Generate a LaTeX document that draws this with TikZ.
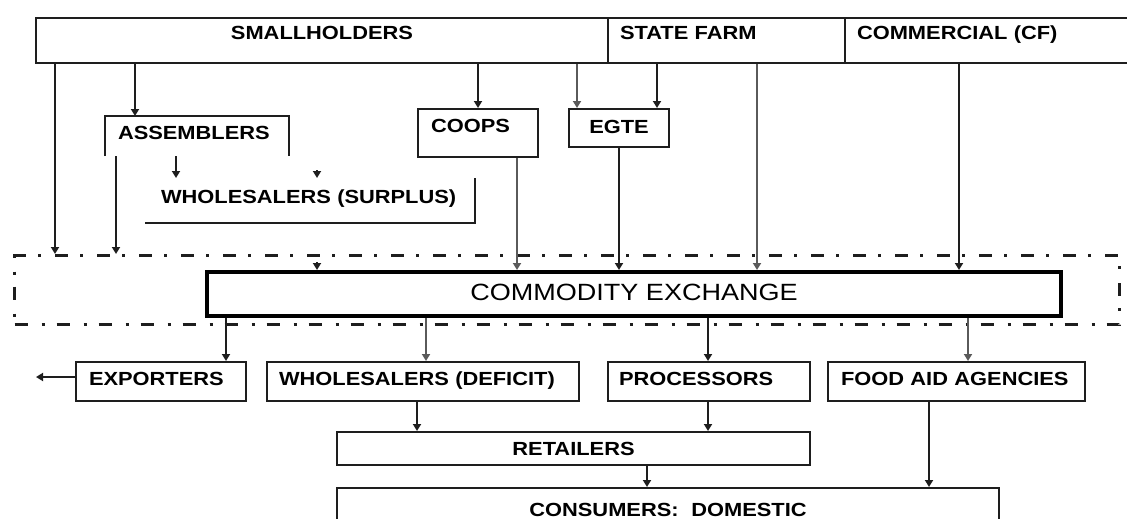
\documentclass[tikz,border=0pt]{standalone}
\usepackage{fontspec}
\setmainfont{Liberation Sans}[FakeStretch=1.15]
\usetikzlibrary{arrows.meta,calc}
\definecolor{lineblk}{RGB}{30,30,30}
\definecolor{linegry}{RGB}{90,90,90}
\tikzset{every picture/.style={line width=2pt}}
\tikzset{
  box/.style={draw=lineblk, line width=2pt, inner xsep=12pt, inner ysep=0pt, anchor=north west, align=left,
    text height=14pt, text depth=7pt, font=\fontsize{19}{22}\selectfont\bfseries},
  frame/.style={draw=lineblk, line width=3pt, dash pattern=on 13pt off 14pt on 3pt off 12pt,
    anchor=north west, inner sep=0pt},
  arr/.style={draw=lineblk, line width=2pt, -{Triangle[length=7pt,width=8pt]}},
  arrg/.style={arr, draw=linegry},
}
\begin{document}
\begin{tikzpicture}[x=1pt,y=1pt,yscale=-1,xscale=1]
\useasboundingbox (0,0) rectangle (1127,519);

% producers
\node[box, text width=548pt, minimum height=45pt, align=center, text depth=15pt] (small) at (35,17) {SMALLHOLDERS};
\node[box, text width=213pt, minimum height=45pt, text depth=15pt] (state) at (607,17) {STATE FARM};
\node[box, text width=282pt, minimum height=45pt, text depth=15pt] (comm) at (844,17) {COMMERCIAL (CF)};

% intermediaries
\node[box, draw=none, text width=158pt, minimum height=38pt] (asm) at (105,116) {ASSEMBLERS};
\draw[lineblk] (asm.south west) -- (asm.north west) -- (asm.north east) -- (asm.south east);
\node[box, draw=none, inner xsep=15pt, text width=298pt, minimum height=43pt, text depth=9pt] (wsur) at (145,178) {WHOLESALERS (SURPLUS)};
\draw[lineblk] (wsur.south west) -- (wsur.south east) -- (wsur.north east);
\node[box, inner xsep=13pt, text width=94pt, minimum height=48pt, text depth=16pt] (coop) at (417,108) {COOPS};
\node[box, align=center, text width=76pt, minimum height=38pt, text depth=2.5pt] (egte) at (568,108) {EGTE};

% exchange
\node[frame, minimum width=1105pt, minimum height=69pt] (xframe) at (13,254) {};
\node[draw=black, line width=4pt, anchor=north west, inner sep=0pt, minimum width=854pt, minimum height=44pt,
  text height=17pt, text depth=4pt, font=\fontsize{23.5}{26}\selectfont] (cx) at (205,270) {COMMODITY EXCHANGE};

% buyers
\node[box, inner xsep=13pt, text width=144pt, minimum height=39pt] (expo) at (75,361) {EXPORTERS};
\node[box, text width=288pt, minimum height=39pt] (wdef) at (266,361) {WHOLESALERS (DEFICIT)};
\node[box, inner xsep=11pt, text width=180pt, minimum height=39pt] (proc) at (607,361) {PROCESSORS};
\node[box, inner xsep=13pt, text width=231pt, minimum height=39pt] (food) at (827,361) {FOOD AID AGENCIES};
\node[box, align=center, text width=449pt, minimum height=33pt, text depth=0pt] (ret) at (336,431) {RETAILERS};
\node[box, align=center, text width=638pt, minimum height=42pt, text depth=0pt] (cons) at (336,487) {CONSUMERS:~~DOMESTIC};
\coordinate (abroad) at (36,377);

% from smallholders
\draw[arr] (55,0 |- small.south) -- (55,0 |- xframe.north);
\draw[arr] (135,0 |- small.south) -- (135,0 |- asm.north);
\draw[arr] (coop.north |- small.south) -- (coop.north);
\draw[arrg] (577,0 |- small.south) -- (577,0 |- egte.north);
% from state farm and commercial
\draw[arr] (657,0 |- state.south) -- (657,0 |- egte.north);
\draw[arrg] (757,0 |- state.south) -- (757,0 |- cx.north);
\draw[arr] (959,0 |- comm.south) -- (959,0 |- cx.north);
% assemblers and wholesalers
\draw[arr] (116,0 |- asm.south) -- (116,0 |- xframe.north);
\draw[arr] (176,0 |- asm.south) -- (176,0 |- wsur.north);
\draw[arr] ($(317,0 |- wsur.north)+(0,-8)$) -- (317,0 |- wsur.north);
\draw[arr] ($(317,0 |- cx.north)+(0,-8)$) -- (317,0 |- cx.north);
% coops and egte
\draw[arrg] (517,0 |- coop.south) -- (517,0 |- cx.north);
\draw[arr] (egte.south) -- (egte.south |- cx.north);
% out of the exchange
\draw[arr] (226,0 |- cx.south) -- (226,0 |- expo.north);
\draw[arrg] (426,0 |- cx.south) -- (426,0 |- wdef.north);
\draw[arr] (708,0 |- cx.south) -- (708,0 |- proc.north);
\draw[arrg] (968,0 |- cx.south) -- (968,0 |- food.north);
\draw[arr] (expo.west |- abroad) -- (abroad);
% to retailers and consumers
\draw[arr] (417,0 |- wdef.south) -- (417,0 |- ret.north);
\draw[arr] (708,0 |- proc.south) -- (708,0 |- ret.north);
\draw[arr] (647,0 |- ret.south) -- (647,0 |- cons.north);
\draw[arr] (929,0 |- food.south) -- (929,0 |- cons.north);

\end{tikzpicture}
\end{document}
